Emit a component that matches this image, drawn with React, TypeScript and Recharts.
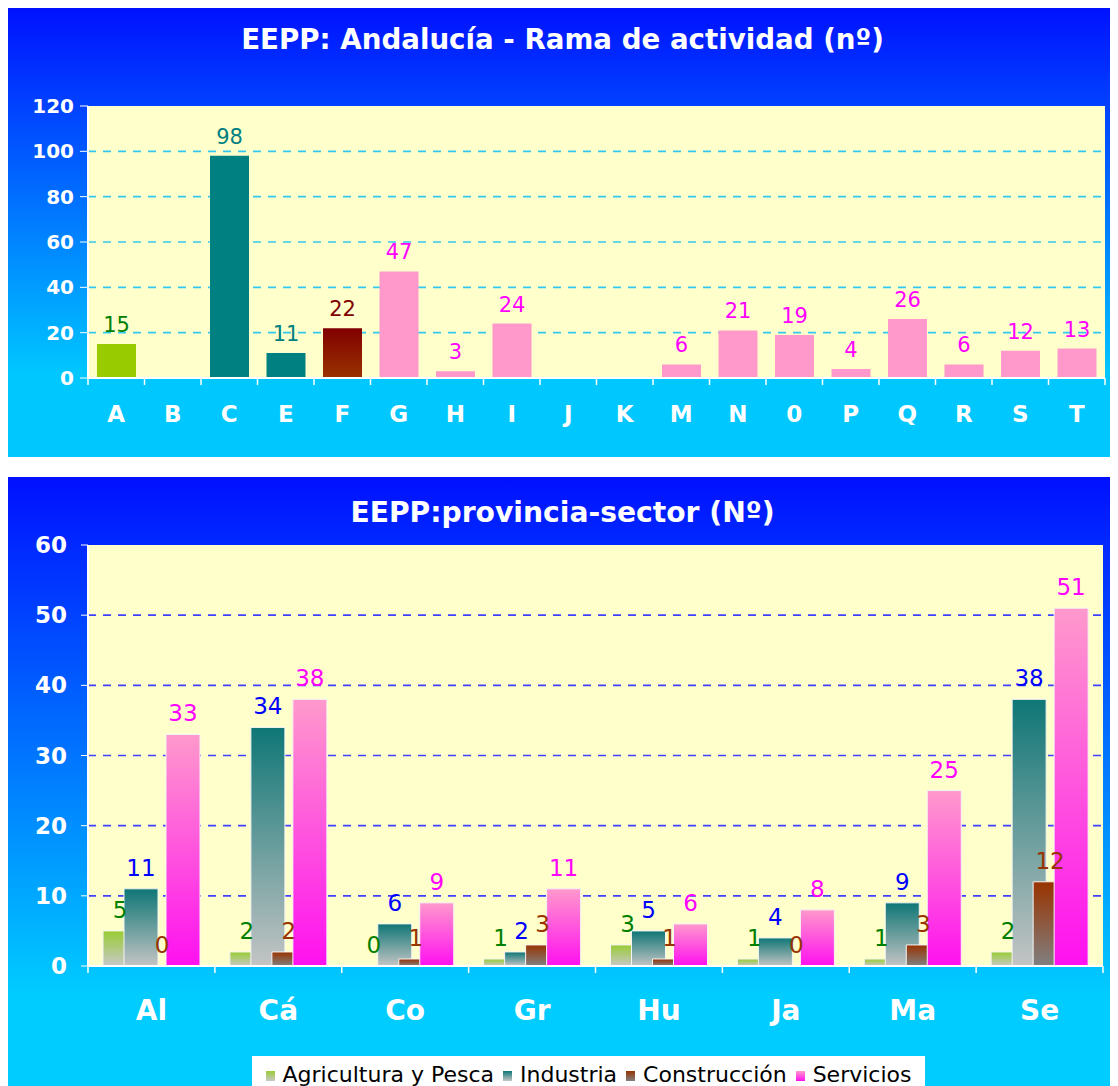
import React from 'react';
import { Bar, BarChart, CartesianGrid, LabelList, XAxis, YAxis } from 'recharts';

// rama de actividad (top chart)
const ramaCategories = ['A', 'B', 'C', 'E', 'F', 'G', 'H', 'I', 'J', 'K', 'M', 'N', '0', 'P', 'Q', 'R', 'S', 'T'];
const ramaValues = [15, null, 98, 11, 22, 47, 3, 24, null, null, 6, 21, 19, 4, 26, 6, 12, 13];
const ramaSectors = ['agri', 'agri', 'ind', 'ind', 'con', 'serv', 'serv', 'serv', 'serv', 'serv', 'serv', 'serv', 'serv', 'serv', 'serv', 'serv', 'serv', 'serv'];
const ramaTicks = [0, 20, 40, 60, 80, 100, 120];

// provincia - sector (bottom chart)
const provincias = ['Al', 'Cá', 'Co', 'Gr', 'Hu', 'Ja', 'Ma', 'Se'];
const agricultura = [5, 2, 0, 1, 3, 1, 1, 2];
const industria = [11, 34, 6, 2, 5, 4, 9, 38];
const construccion = [0, 2, 1, 3, 1, 0, 3, 12];
const servicios = [33, 38, 9, 11, 6, 8, 25, 51];
const provTicks = [0, 10, 20, 30, 40, 50, 60];

const sectorKeys = ['agri', 'ind', 'con', 'serv'];
const sectorNames = ['Agricultura y Pesca', 'Industria', 'Construcción', 'Servicios'];

const FONT = 'Verdana, "DejaVu Sans", sans-serif';

const topFill: Record<string, string> = { agri: '#99cc00', ind: '#008080', con: 'url(#conTop)', serv: '#ff99cc' };
const topLabel: Record<string, string> = { agri: '#008000', ind: '#008080', con: '#800000', serv: '#ff00ff' };

const grad: Record<string, [string, string]> = {
  agri: ['#99cc33', '#c8c8c8'],
  ind: ['#0f7676', '#c4c4c4'],
  con: ['#993300', '#808080'],
  serv: ['#ff99cc', '#ff10f0'],
};
const botLabel: Record<string, string> = { agri: '#008000', ind: '#0000ff', con: '#993300', serv: '#ff00ff' };

const ramaData = ramaCategories.map((c, i) => {
  const row: any = { cat: c };
  sectorKeys.forEach((k) => {
    row[k] = ramaSectors[i] === k ? ramaValues[i] : null;
  });
  return row;
});

const provData = provincias.map((p, i) => ({
  prov: p,
  agri: agricultura[i],
  ind: industria[i],
  con: construccion[i],
  serv: servicios[i],
}));

function CategoryTick(props: any) {
  const { x, y, payload, index, visibleTicksCount, fs, drop } = props;
  const half = payload.offset ?? 0;
  const axisY = y - drop;
  return (
    <g>
      <line x1={x - half} x2={x - half} y1={axisY} y2={axisY + 7} stroke="#ffffff" strokeWidth={1.5} />
      {index === visibleTicksCount - 1 && (
        <line x1={x + half} x2={x + half} y1={axisY} y2={axisY + 7} stroke="#ffffff" strokeWidth={1.5} />
      )}
      <text x={x} y={y} dy="0.71em" textAnchor="middle" fill="#ffffff" style={{ fontSize: fs, fontWeight: 'bold', fontFamily: FONT }}>
        {payload.value}
      </text>
    </g>
  );
}

function RamaChart() {
  return (
    <div
      style={{
        position: 'relative',
        width: 1111,
        height: 451,
        background: 'linear-gradient(to bottom, #0010ff 0%, #00c8ff 82%, #00c8ff 100%)',
      }}
    >
      <div
        style={{
          position: 'absolute',
          top: 17,
          left: 0,
          width: '100%',
          textAlign: 'center',
          color: '#fff',
          fontFamily: FONT,
          fontWeight: 'bold',
          fontSize: 27.7,
          lineHeight: '34px',
        }}
      >
        EEPP: Andalucía - Rama de actividad (nº)
      </div>
      <BarChart width={1111} height={451} data={ramaData} margin={{ top: 100, right: 13, bottom: 0, left: 11 }} barSize={39}>
        <defs>
          <linearGradient id="conTop" x1="0" y1="0" x2="0" y2="1">
            <stop offset="0%" stopColor="#800000" />
            <stop offset="100%" stopColor="#993300" />
          </linearGradient>
        </defs>
        <CartesianGrid
          fill="#ffffcc"
          vertical={false}
          stroke="#33c8f0"
          strokeWidth={1.6}
          strokeDasharray="8 7"
          horizontalValues={[20, 40, 60, 80, 100]}
        />
        <XAxis
          dataKey="cat"
          height={79}
          axisLine={{ stroke: '#ffffff', strokeWidth: 2 }}
          tickLine={false}
          tickSize={0}
          tickMargin={28}
          interval={0}
          tick={<CategoryTick fs={23} drop={28} />}
        />
        <YAxis
          width={70}
          domain={[0, 120]}
          ticks={ramaTicks}
          axisLine={{ stroke: '#ffffff', strokeWidth: 2 }}
          tickLine={{ stroke: '#ffffff' }}
          tickSize={8}
          tickMargin={6}
          tick={{ fill: '#ffffff', fontSize: 20, fontWeight: 'bold', fontFamily: FONT }}
        />
        {sectorKeys.map((k) => (
          <Bar key={k} dataKey={k} stackId="r" fill={topFill[k]} isAnimationActive={false}>
            <LabelList dataKey={k} position="top" offset={12} fill={topLabel[k]} fontSize={21} fontFamily={FONT} />
          </Bar>
        ))}
      </BarChart>
    </div>
  );
}

function ProvinciaChart() {
  return (
    <div
      style={{
        position: 'relative',
        width: 1111,
        height: 609,
        marginTop: 20,
        background: 'linear-gradient(to bottom, #0010ff 0%, #00ccff 85%, #00ccff 100%)',
      }}
    >
      <div
        style={{
          position: 'absolute',
          top: 19,
          left: 0,
          width: '100%',
          textAlign: 'center',
          color: '#fff',
          fontFamily: FONT,
          fontWeight: 'bold',
          fontSize: 28.2,
          lineHeight: '34px',
        }}
      >
        EEPP:provincia-sector (Nº)
      </div>
      <BarChart width={1111} height={609} data={provData} margin={{ top: 68, right: 15, bottom: 70, left: 11 }} barSize={34} barGap={-13}>
        <defs>
          {sectorKeys.map((k) => (
            <linearGradient key={k} id={`g-${k}`} x1="0" y1="0" x2="0" y2="1">
              <stop offset="0%" stopColor={grad[k][0]} />
              <stop offset="100%" stopColor={grad[k][1]} />
            </linearGradient>
          ))}
        </defs>
        <CartesianGrid
          fill="#ffffcc"
          vertical={false}
          stroke="#4040ff"
          strokeWidth={1.6}
          strokeDasharray="8 7"
          horizontalValues={[10, 20, 30, 40, 50]}
        />
        <XAxis
          dataKey="prov"
          height={50}
          axisLine={{ stroke: '#ffffff', strokeWidth: 2 }}
          tickLine={false}
          tickSize={0}
          tickMargin={34}
          interval={0}
          tick={<CategoryTick fs={28} drop={34} />}
        />
        <YAxis
          width={70}
          domain={[0, 60]}
          ticks={provTicks}
          axisLine={{ stroke: '#ffffff', strokeWidth: 2 }}
          tickLine={{ stroke: '#ffffff' }}
          tickSize={7}
          tickMargin={14}
          tick={{ fill: '#ffffff', fontSize: 23, fontWeight: 'bold', fontFamily: FONT }}
        />
        {sectorKeys.map((k) => (
          <Bar
            key={k}
            dataKey={k}
            fill={`url(#g-${k})`}
            stroke="#f4f4f4"
            strokeWidth={1}
            minPointSize={0.3}
            isAnimationActive={false}
          >
            <LabelList dataKey={k} position="top" offset={13} fill={botLabel[k]} fontSize={23} fontFamily={FONT} />
          </Bar>
        ))}
      </BarChart>
      <div
        style={{
          position: 'absolute',
          left: 245,
          top: 579,
          width: 673,
          height: 36,
          background: '#ffffff',
          display: 'flex',
          alignItems: 'center',
          justifyContent: 'center',
          fontFamily: FONT,
          fontSize: 22,
          color: '#000',
          whiteSpace: 'nowrap',
        }}
      >
        {sectorKeys.map((k, i) => (
          <span key={k} style={{ display: 'flex', alignItems: 'center', marginRight: i < 3 ? 9 : 0 }}>
            <span
              style={{
                display: 'inline-block',
                width: 9,
                height: 10,
                marginTop: 3,
                marginRight: 8,
                background: `linear-gradient(to bottom, ${grad[k][0]}, ${grad[k][1]})`,
              }}
            />
            {sectorNames[i]}
          </span>
        ))}
      </div>
    </div>
  );
}

export default function App() {
  return (
    <div style={{ marginTop: -2, marginLeft: -1, width: 1111 }}>
      <RamaChart />
      <ProvinciaChart />
    </div>
  );
}
